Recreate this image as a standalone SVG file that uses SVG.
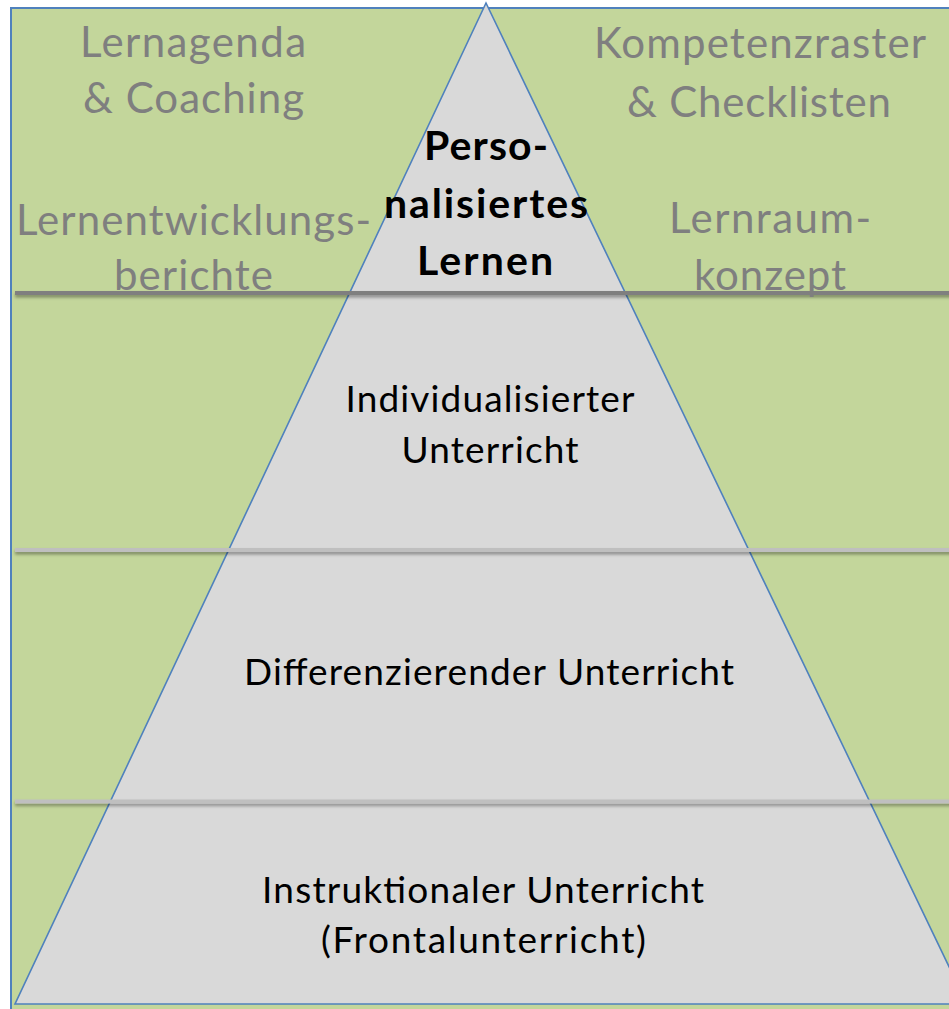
<svg xmlns="http://www.w3.org/2000/svg" width="949" height="1009" viewBox="0 0 949 1009">
  <defs>
    <filter id="lineShadow" x="-5%" y="-100%" width="110%" height="400%">
      <feDropShadow dx="0" dy="2.5" stdDeviation="1.6" flood-color="#000" flood-opacity="0.35"/>
    </filter>
    <style>
      .frame { fill: #c3d69b; stroke: #4f81bd; stroke-width: 2; }
      .pyramid { fill: #d9d9d9; stroke: #4f81bd; stroke-width: 1.6; stroke-linejoin: miter; }
      .tier { filter: url(#lineShadow); }
      .tier-top { fill: #7f7f7f; }
      .tier-low { fill: #bfbfbf; }
      .side { font-family: Lato, "Liberation Sans", sans-serif; font-size: 42px; fill: #7f7f7f; text-anchor: middle; }
      .level { font-family: Lato, "Liberation Sans", sans-serif; font-size: 37px; fill: #000; text-anchor: middle; }
      .peak { font-family: Lato, "Liberation Sans", sans-serif; font-size: 41px; font-weight: bold; fill: #000; text-anchor: middle; }
    </style>
  </defs>

  <rect width="949" height="1009" fill="#ffffff"/>

  <!-- green background panel -->
  <g id="panel">
    <rect class="frame" x="11" y="8" width="960" height="1020"/>
  </g>

  <!-- pyramid body -->
  <g id="pyramid">
    <polygon class="pyramid" points="486,3 15,1004 967,1004"/>
  </g>

  <!-- tier separators -->
  <g id="separators">
    <rect class="tier tier-top" x="15" y="291" width="945" height="4"/>
    <rect class="tier tier-low" x="15" y="548" width="945" height="4"/>
    <rect class="tier tier-low" x="15" y="799.5" width="945" height="4"/>
  </g>

  <!-- tools beside the top tier -->
  <g id="tool-lernagenda">
    <text class="side" x="193" y="57" textLength="226">Lernagenda</text>
    <text class="side" x="193.5" y="113" textLength="221">&amp; Coaching</text>
  </g>
  <g id="tool-berichte">
    <text class="side" x="193.5" y="235" textLength="355">Lernentwicklungs-</text>
    <text class="side" x="193.5" y="290" textLength="159">berichte</text>
  </g>
  <g id="tool-raster">
    <text class="side" x="760" y="58" textLength="332">Kompetenzraster</text>
    <text class="side" x="759" y="117" textLength="264">&amp; Checklisten</text>
  </g>
  <g id="tool-lernraum">
    <text class="side" x="770" y="233" textLength="202">Lernraum-</text>
    <text class="side" x="770" y="290" textLength="152">konzept</text>
  </g>

  <!-- pyramid tiers -->
  <g id="tier-personalisiert">
    <text class="peak" x="486" y="160" textLength="124">Perso-</text>
    <text class="peak" x="486" y="218" textLength="204">nalisiertes</text>
    <text class="peak" x="485" y="275" textLength="136">Lernen</text>
  </g>
  <g id="tier-individualisiert">
    <text class="level" x="490" y="412" textLength="289">Individualisierter</text>
    <text class="level" x="490" y="463" textLength="177">Unterricht</text>
  </g>
  <g id="tier-differenzierend">
    <text class="level" x="489" y="685" textLength="490">Differenzierender Unterricht</text>
  </g>
  <g id="tier-instruktional">
    <text class="level" x="483" y="903" textLength="442">Instruktionaler Unterricht</text>
    <text class="level" x="483.5" y="953" textLength="325">(Frontalunterricht)</text>
  </g>
</svg>
